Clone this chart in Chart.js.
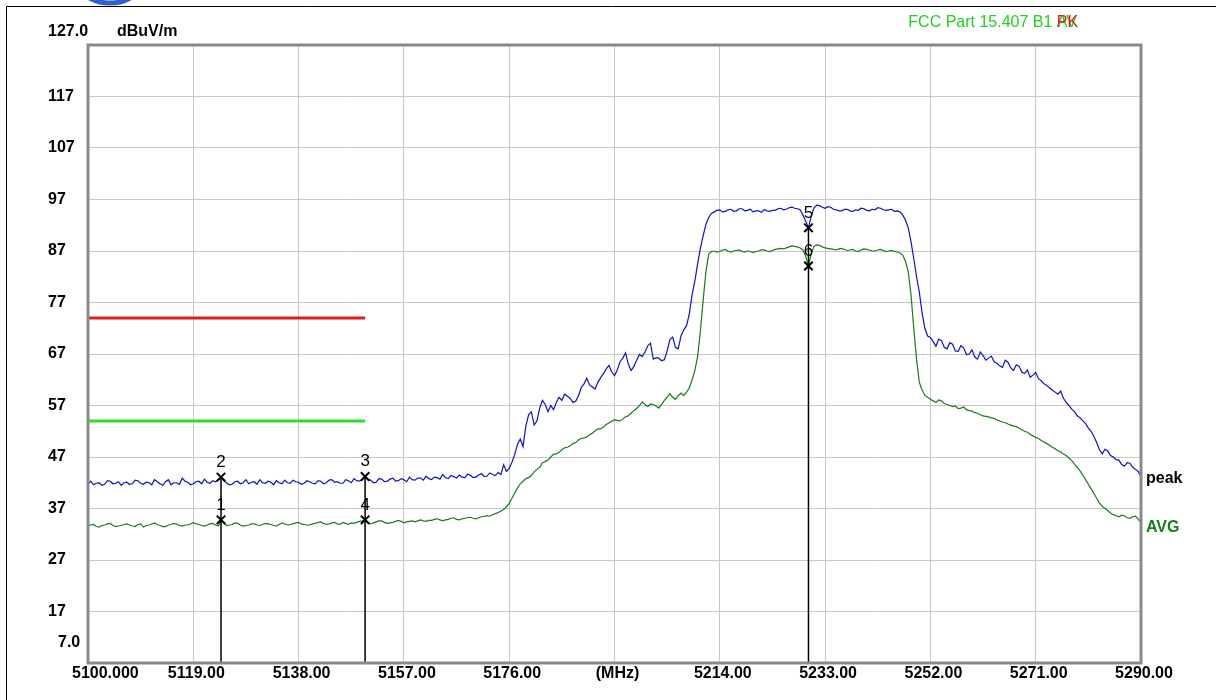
<!DOCTYPE html>
<html>
<head>
<meta charset="utf-8">
<script src="https://cdn.jsdelivr.net/npm/chart.js@4.4.1/dist/chart.umd.min.js"></script>
<style>
    html, body { margin: 0; padding: 0; background: #fff; }
    #wrap { width: 1216px; height: 700px; position: relative; }
</style>
</head>
<body>
<div id="wrap"><canvas id="emiChart" width="1216" height="700"></canvas></div>
<script>
// sweep: 5100 .. 5290 MHz, one reading every 0.5 MHz
const FREQ_START = 5100;
const FREQ_STEP = 0.5;

// peak detector trace (dBuV/m), 20 readings per row = 10 MHz
const peakTrace = [
    41.8, 42.3, 41.6, 41.9, 42.0, 41.5, 41.7, 42.4, 42.3, 41.8, 41.9, 42.2, 41.5, 42.0, 42.1, 41.7, 41.8, 42.5, 42.4, 41.9,
    41.7, 42.1, 42.0, 41.6, 42.6, 42.2, 41.8, 41.5, 42.2, 42.6, 41.6, 42.0, 42.0, 41.7, 42.9, 42.3, 42.1, 41.6, 41.8, 42.2,
    42.3, 41.8, 42.7, 42.1, 41.9, 42.4, 42.2, 42.6, 43.0, 42.4, 42.0, 41.6, 41.7, 42.2, 42.3, 41.8, 42.0, 42.6, 41.8, 42.1,
    42.2, 41.7, 42.6, 42.0, 41.9, 42.3, 42.1, 41.6, 42.4, 42.0, 41.8, 42.5, 42.0, 41.9, 42.5, 42.2, 42.1, 41.7, 41.9, 42.4,
    42.2, 41.9, 41.8, 42.4, 42.3, 41.8, 42.0, 42.5, 42.6, 42.1, 42.2, 41.9, 41.9, 42.6, 42.4, 42.0, 42.8, 42.4, 42.3, 42.7,
    43.2, 42.6, 42.5, 42.0, 42.1, 42.8, 42.7, 42.2, 42.3, 42.7, 42.9, 42.3, 42.4, 42.8, 42.6, 42.2, 43.1, 42.6, 42.5, 42.9,
    42.9, 42.5, 43.3, 42.8, 42.6, 43.1, 43.0, 42.7, 43.6, 43.0, 42.8, 43.4, 43.2, 42.9, 43.5, 43.1, 43.0, 43.7, 43.4, 43.0,
    43.1, 43.5, 43.8, 43.2, 43.3, 43.9, 43.6, 43.4, 44.0, 43.6, 45.5, 44.2, 44.8, 46.0, 47.5, 49.5, 50.5, 49.0, 53.0, 55.2,
    55.8, 53.2, 54.0, 56.5, 58.0, 57.2, 55.8, 57.0, 56.2, 57.6, 58.6, 58.0, 59.2, 58.8, 58.4, 57.6, 57.8, 58.9, 60.5, 61.2,
    62.3, 61.0, 60.6, 60.2, 61.5, 62.4, 63.2, 64.1, 64.8, 63.5, 62.8, 63.9, 65.5, 66.2, 67.2, 65.0, 63.8, 64.6, 65.8, 66.9,
    66.5, 67.4, 68.6, 69.1, 66.0, 66.3, 66.2, 65.7, 65.9, 67.6, 69.8, 70.3, 68.3, 68.0, 70.5, 71.7, 72.5, 74.8, 78.5, 81.2,
    84.5, 87.5, 90.0, 92.2, 93.5, 94.3, 94.6, 94.9, 95.0, 94.6, 94.7, 95.0, 95.1, 94.7, 94.8, 95.2, 95.2, 94.8, 94.9, 95.1,
    94.6, 94.8, 94.8, 94.5, 95.0, 94.8, 94.7, 94.9, 94.9, 95.2, 95.3, 95.0, 95.1, 95.4, 95.5, 95.3, 95.2, 95.0, 94.0, 92.8,
    91.5, 93.8, 95.4, 95.9, 95.8, 95.5, 95.3, 95.6, 95.5, 95.1, 95.0, 94.8, 94.8, 95.1, 95.1, 94.8, 94.7, 95.0, 94.9, 95.3,
    95.2, 94.9, 94.8, 95.1, 95.0, 95.4, 95.3, 95.0, 94.9, 95.0, 95.1, 94.7, 94.8, 94.6, 94.0, 93.0, 91.5, 88.8, 85.5, 82.0,
    79.0, 75.0, 72.0, 70.5, 70.2, 69.4, 68.5, 69.9, 69.6, 68.3, 68.0, 69.2, 68.9, 67.6, 67.5, 68.6, 68.2, 66.9, 67.0, 67.8,
    66.4, 66.0, 67.4, 66.7, 65.8, 66.2, 66.6, 65.5, 65.2, 64.7, 64.4, 65.8, 65.4, 64.3, 63.8, 64.9, 64.6, 63.5, 63.2, 63.9,
    62.5, 62.9, 63.4, 62.2, 61.8, 61.2, 60.9, 60.4, 60.0, 59.6, 59.2, 59.8, 58.4, 57.6, 57.0, 56.3, 55.8, 55.0, 54.6, 54.0,
    53.5, 52.6, 52.0, 51.0, 49.8, 48.4, 47.6, 48.5, 48.2, 47.3, 47.0, 46.5, 46.4, 45.6, 45.2, 45.9, 45.8, 45.0, 44.6, 44.2,
    43.2
];

// average detector trace (dBuV/m)
const avgTrace = [
    33.6, 33.8, 33.9, 33.5, 33.4, 33.7, 33.8, 34.0, 34.1, 33.7, 33.5, 33.6, 33.7, 33.9, 34.0, 33.8, 33.6, 33.5, 33.9, 34.0,
    33.4, 33.7, 33.8, 34.0, 34.2, 33.9, 33.7, 33.5, 33.5, 33.8, 33.9, 34.1, 34.0, 33.7, 33.6, 33.8, 33.8, 34.0, 34.3, 34.0,
    33.9, 33.7, 33.6, 33.8, 34.0, 34.1, 33.8, 33.6, 34.7, 34.2, 33.7, 33.8, 33.9, 34.2, 34.1, 33.8, 33.6, 33.7, 33.8, 34.0,
    34.0, 33.8, 33.7, 33.9, 34.1, 34.0, 33.9, 33.7, 33.6, 33.9, 34.2, 34.0, 33.8, 33.9, 34.0, 34.2, 34.3, 34.0, 33.9, 33.8,
    33.8, 34.0, 34.1, 34.3, 34.4, 34.1, 33.9, 34.0, 34.2, 34.3, 34.0, 33.9, 34.3, 34.1, 33.9, 34.2, 34.1, 34.3, 34.5, 34.6,
    34.8, 34.3, 34.0, 34.2, 34.4, 34.6, 34.6, 34.3, 34.1, 34.2, 34.3, 34.5, 34.7, 34.5, 34.2, 34.4, 34.5, 34.6, 34.4, 34.6,
    34.8, 34.6, 34.5, 34.7, 34.7, 34.9, 35.0, 34.8, 34.6, 34.8, 34.9, 35.1, 35.2, 34.9, 34.8, 35.0, 35.1, 35.2, 35.3, 35.1,
    35.0, 35.2, 35.4, 35.5, 35.6, 35.5, 35.8, 36.0, 36.2, 36.5, 36.8, 37.3, 38.0, 39.0, 40.0, 41.0, 41.8, 42.3, 42.8, 43.0,
    43.4, 44.1, 44.6, 45.0, 45.9, 46.1, 46.4, 47.0, 47.5, 47.6, 47.9, 48.4, 48.8, 48.9, 49.2, 49.6, 49.8, 50.3, 50.6, 50.7,
    50.9, 51.3, 51.6, 52.1, 52.4, 52.5, 52.8, 53.3, 53.6, 54.0, 54.2, 54.1, 54.0, 54.4, 54.8, 55.0, 55.5, 56.0, 56.4, 57.0,
    57.7, 57.2, 56.8, 57.3, 57.2, 56.9, 56.5, 57.2, 58.0, 58.6, 59.3, 58.6, 58.2, 58.9, 59.4, 58.9, 59.6, 60.4, 62.0, 63.8,
    66.5, 71.5, 77.5, 83.0, 86.4, 86.9, 87.0, 86.8, 86.9, 87.2, 87.3, 87.0, 86.8, 87.0, 87.1, 87.2, 86.9, 86.8, 87.0, 86.9,
    86.7, 86.9, 87.0, 87.2, 87.2, 87.0, 86.9, 87.1, 87.3, 87.4, 87.5, 87.4, 87.6, 87.8, 88.0, 87.9, 87.8, 87.6, 87.2, 86.0,
    84.1, 86.5, 87.9, 88.2, 88.1, 87.8, 87.6, 87.5, 87.4, 87.3, 87.2, 87.4, 87.5, 87.3, 87.1, 87.2, 87.3, 87.0, 86.9, 87.2,
    87.4, 87.3, 87.2, 87.0, 87.0, 87.2, 87.3, 87.1, 86.9, 87.0, 87.1, 86.9, 86.8, 86.6, 86.2, 85.0, 83.0, 78.5, 72.0, 66.0,
    61.5, 60.0, 59.0, 58.6, 58.2, 57.9, 57.6, 58.1, 57.9, 57.4, 57.2, 57.0, 56.8, 56.9, 56.4, 56.5, 56.7, 56.2, 56.0, 55.9,
    55.6, 55.5, 55.2, 55.0, 54.9, 54.8, 54.6, 54.5, 54.2, 54.0, 53.8, 53.7, 53.4, 53.2, 53.0, 52.9, 52.6, 52.3, 52.0, 51.8,
    51.4, 51.1, 50.8, 50.6, 50.2, 49.9, 49.6, 49.3, 48.9, 48.6, 48.2, 48.0, 47.6, 47.3, 46.8, 46.3, 45.6, 45.0, 44.3, 43.5,
    42.6, 41.7, 40.8, 39.9, 39.0, 38.1, 37.4, 37.0, 36.6, 36.1, 35.8, 35.6, 35.4, 35.7, 35.6, 35.2, 35.1, 35.4, 35.5, 35.0,
    34.2
];

// limit lines (restricted band edge)
const limitFreq = [5100, 5150];
const peakLimit = [74, 74];
const avgLimit = [54, 54];

// markers
const markerNo = ["1", "2", "3", "4", "5", "6"];
const markerFreq = [5124, 5124, 5150, 5150, 5230, 5230];
const markerLevel = [34.8, 43.1, 43.2, 34.8, 91.5, 84.1];
const markerStems = [1, 2, 4]; // index of the upper marker on each stem

// axes
const yTicks = [7, 17, 27, 37, 47, 57, 67, 77, 87, 97, 107, 117, 127];
const yTickLabels = ["7.0", "17", "27", "37", "47", "57", "67", "77", "87", "97", "107", "117", "127.0"];
const xTicks = [5100, 5119, 5138, 5157, 5176, 5195, 5214, 5233, 5252, 5271, 5290];
const xTickLabels = ["5100.000", "5119.00", "5138.00", "5157.00", "5176.00", "(MHz)",
    "5214.00", "5233.00", "5252.00", "5271.00", "5290.00"];

const FONT_B = 'bold 16px "Liberation Sans", Arial, sans-serif';
const FONT_N = '17px "Liberation Sans", Arial, sans-serif';

function toXY(ys) {
    return ys.map((v, i) => ({ x: FREQ_START + i * FREQ_STEP, y: v }));
}

function pairXY(xs, ys) {
    return xs.map((x, i) => ({ x: x, y: ys[i] }));
}

let datasets = [
    {
        label: "peak limit",
        data: pairXY(limitFreq, peakLimit),
        borderColor: "#e01c1c",
        borderWidth: 3,
        order: 5
    },
    {
        label: "avg limit",
        data: pairXY(limitFreq, avgLimit),
        borderColor: "#2fdc2f",
        borderWidth: 3,
        order: 5
    },
    {
        label: "peak",
        data: toXY(peakTrace),
        borderColor: "#1010c8",
        borderWidth: 1.2,
        order: 3
    },
    {
        label: "AVG",
        data: toXY(avgTrace),
        borderColor: "#1b7a1b",
        borderWidth: 1.2,
        order: 3
    }
];

// vertical marker stems down to the floor of the plot
markerStems.forEach(function (m) {
    datasets.push({
        label: "stem " + markerNo[m],
        data: [{ x: markerFreq[m], y: markerLevel[m] }, { x: markerFreq[m], y: yTicks[0] }],
        borderColor: "#000",
        borderWidth: 1.5,
        order: 1
    });
});

datasets.push({
    label: "markers",
    data: pairXY(markerFreq, markerLevel),
    showLine: false,
    pointStyle: "crossRot",
    pointRadius: 6,
    pointBorderWidth: 2,
    pointBorderColor: "#000",
    borderColor: "#000",
    order: 0
});

// text, frame and plot border
const decorPlugin = {
    id: "decor",
    afterDraw(chart) {
        const ctx = chart.ctx;
        const xs = chart.scales.x;
        const ys = chart.scales.y;
        const area = chart.chartArea;

        ctx.save();

        // outer frame + bit of the logo at the top edge
        ctx.strokeStyle = "#000";
        ctx.lineWidth = 1;
        ctx.beginPath();
        ctx.moveTo(6.5, 700);
        ctx.lineTo(6.5, 6.5);
        ctx.lineTo(1216, 6.5);
        ctx.stroke();
        ctx.strokeStyle = "#2f5fd0";
        ctx.lineWidth = 5;
        ctx.beginPath();
        ctx.ellipse(110, -22, 34, 25, 0, 0, Math.PI * 2);
        ctx.stroke();

        // plot border
        ctx.strokeStyle = "#8a8a8a";
        ctx.lineWidth = 3;
        ctx.strokeRect(area.left, area.top, area.right - area.left, area.bottom - area.top);

        // y labels
        ctx.fillStyle = "#000";
        ctx.font = FONT_B;
        ctx.textBaseline = "middle";
        ctx.textAlign = "left";
        yTicks.forEach(function (v, i) {
            let y = ys.getPixelForValue(v);
            if (i === yTicks.length - 1) {
                ctx.fillText(yTickLabels[i], 48, y - 13);
                ctx.fillText("dBuV/m", 117, y - 13);
            } else if (i === 0) {
                ctx.fillText(yTickLabels[i], 58, y - 20);
            } else {
                ctx.fillText(yTickLabels[i], 48, y);
            }
        });

        // x labels
        ctx.textAlign = "center";
        xTicks.forEach(function (v, i) {
            let x = xs.getPixelForValue(v);
            if (i === 0) {
                ctx.textAlign = "left";
                ctx.fillText(xTickLabels[i], x - 16, area.bottom + 11);
                ctx.textAlign = "center";
            } else {
                ctx.fillText(xTickLabels[i], x + 3, area.bottom + 11);
            }
        });

        // trace names at the right end
        ctx.textAlign = "left";
        ctx.fillStyle = "#000";
        ctx.fillText("peak", area.right + 5, ys.getPixelForValue(peakTrace[peakTrace.length - 1]) + 2);
        ctx.fillStyle = "#1b7a1b";
        ctx.fillText("AVG", area.right + 5, ys.getPixelForValue(avgTrace[avgTrace.length - 1]) + 5);

        // marker numbers
        ctx.font = FONT_N;
        ctx.fillStyle = "#000";
        ctx.textAlign = "center";
        markerNo.forEach(function (n, i) {
            ctx.fillText(n, xs.getPixelForValue(markerFreq[i]), ys.getPixelForValue(markerLevel[i]) - 15);
        });

        // limit title
        ctx.font = '16px "Liberation Sans", Arial, sans-serif';
        ctx.textAlign = "right";
        ctx.fillStyle = "#22d022";
        ctx.fillText("AV", 1077, 23);
        let tail = ctx.measureText("AV").width;
        ctx.fillStyle = "#e01c1c";
        ctx.textAlign = "left";
        ctx.fillText("PK", 1077 - tail, 23);
        ctx.fillStyle = "#22d022";
        ctx.textAlign = "right";
        ctx.fillText("FCC Part 15.407 B1 ", 1077 - tail, 23);

        ctx.restore();
    }
};

new Chart(document.getElementById("emiChart").getContext("2d"), {
    type: "line",
    data: { datasets: datasets },
    options: {
        responsive: false,
        animation: false,
        devicePixelRatio: 1,
        layout: { padding: { left: 88, top: 45, right: 75, bottom: 37 } },
        elements: {
            point: { radius: 0, hoverRadius: 0 },
            line: { tension: 0, fill: false }
        },
        plugins: {
            legend: { display: false },
            tooltip: { enabled: false }
        },
        scales: {
            x: {
                type: "linear",
                min: xTicks[0],
                max: xTicks[xTicks.length - 1],
                afterBuildTicks: function (s) { s.ticks = xTicks.map(v => ({ value: v })); },
                afterFit: function (s) { s.height = 0; },
                ticks: { display: false },
                grid: { color: "#c8c8c8", drawTicks: false },
                border: { display: false }
            },
            y: {
                min: yTicks[0],
                max: yTicks[yTicks.length - 1],
                afterBuildTicks: function (s) { s.ticks = yTicks.map(v => ({ value: v })); },
                afterFit: function (s) { s.width = 0; },
                ticks: { display: false },
                grid: { color: "#c8c8c8", drawTicks: false },
                border: { display: false }
            }
        }
    },
    plugins: [decorPlugin]
});
</script>
</body>
</html>
